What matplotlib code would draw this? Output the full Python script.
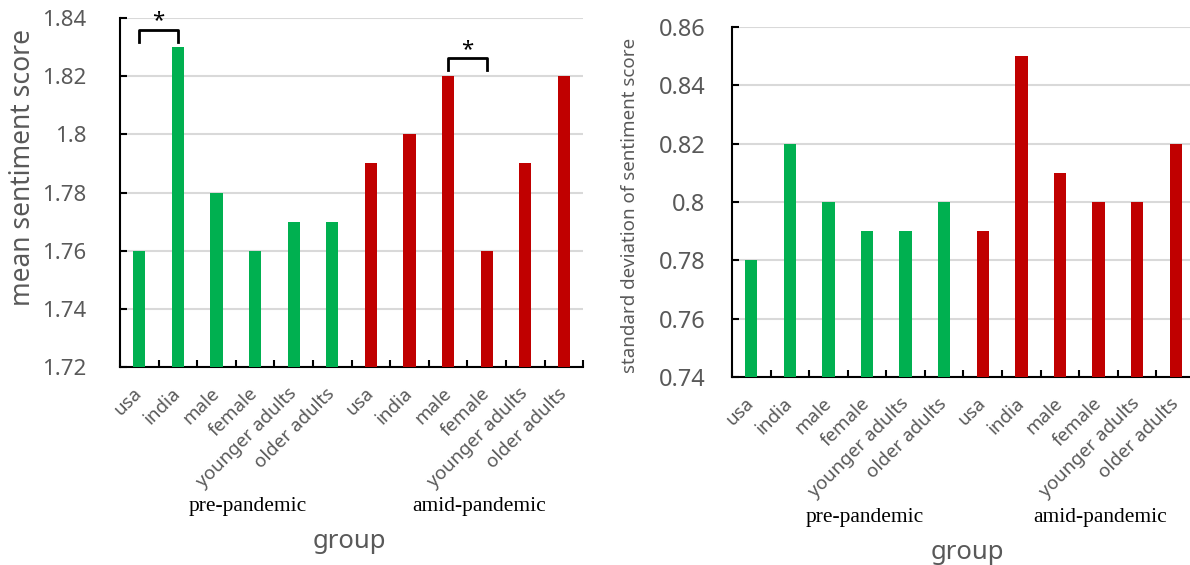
import numpy as np
import matplotlib.pyplot as plt
from matplotlib.ticker import FuncFormatter, MultipleLocator

groups = ['usa', 'india', 'male', 'female', 'younger adults', 'older adults']
labels = groups + groups
periods = ['pre-pandemic', 'amid-pandemic']

mean_pre = [1.76, 1.83, 1.78, 1.76, 1.77, 1.77]
mean_amid = [1.79, 1.80, 1.82, 1.76, 1.79, 1.82]
std_pre = [0.78, 0.82, 0.80, 0.79, 0.79, 0.80]
std_amid = [0.79, 0.85, 0.81, 0.80, 0.80, 0.82]

GREEN = '#00B050'
RED = '#C00000'
GRAY = '#595959'
plt.rcParams['font.family'] = ['Noto Sans', 'DejaVu Sans']

fig = plt.figure(figsize=(11.9, 5.65), dpi=100)
ax1 = fig.add_axes([0.1008, 0.3504, 0.3893, 0.6176])
ax2 = fig.add_axes([0.6151, 0.3327, 0.3891, 0.6195])


def style(ax, vals_pre, vals_amid, ylim, ylabel, ylabel_size, ysize, ypad):
    x = np.arange(12)
    vals = vals_pre + vals_amid
    colors = [GREEN] * 6 + [RED] * 6
    ax.bar(x, np.array(vals) - ylim[0], bottom=ylim[0], width=0.32, color=colors, zorder=3)
    ax.set_xlim(-0.5, 11.5)
    ax.set_ylim(*ylim)
    ax.yaxis.set_major_locator(MultipleLocator(0.02))
    ax.yaxis.set_major_formatter(FuncFormatter(lambda v, p: '{:g}'.format(round(v, 2))))
    ax.grid(axis='y', color='#d9d9d9', linewidth=1.5, zorder=0)
    ax.set_axisbelow(True)
    for s in ['top', 'right']:
        ax.spines[s].set_visible(False)
    for s in ['left', 'bottom']:
        ax.spines[s].set_linewidth(1.5)
        ax.spines[s].set_color('black')
    ax.tick_params(axis='y', direction='in', length=5, width=1.5, labelsize=ysize,
                   labelcolor=GRAY, pad=ypad)
    ax.set_xticks(x)
    ax.set_xticklabels(labels, rotation=45, ha='right', va='center',
                       rotation_mode='anchor', color=GRAY, fontsize=13.5)
    ax.tick_params(axis='x', which='major', length=0, pad=17)
    ax.set_xticks(np.arange(-0.5, 12, 1), minor=True)
    ax.tick_params(axis='x', which='minor', direction='in', length=5, width=1.5)
    ax.set_ylabel(ylabel, color=GRAY, fontsize=ylabel_size)


style(ax1, mean_pre, mean_amid, (1.72, 1.84), 'mean sentiment score', 19, 16, 24)
style(ax2, std_pre, std_amid, (0.74, 0.86), 'standard deviation of sentiment score',
      13.5, 17, 19)
ax1.yaxis.set_label_coords(-0.18, 0.572)
ax2.yaxis.set_label_coords(-0.2, 0.49)

# significance brackets
ax1.plot([0, 0, 1, 1], [1.8318, 1.836, 1.836, 1.8318], color='black', lw=2, zorder=4)
ax1.text(0.5, 1.8355, '*', ha='center', va='bottom', fontsize=16, fontweight='bold')
ax1.plot([8, 8, 9, 9], [1.8222, 1.8262, 1.8262, 1.8222], color='black', lw=2, zorder=4)
ax1.text(8.5, 1.8257, '*', ha='center', va='bottom', fontsize=16, fontweight='bold')

# period labels and x title
tr1 = ax1.get_xaxis_transform()
ax1.text(2.8, -0.40, periods[0], transform=tr1, ha='center', va='center',
         family='Liberation Serif', fontsize=15.5)
ax1.text(8.8, -0.40, periods[1], transform=tr1, ha='center', va='center',
         family='Liberation Serif', fontsize=15.5)
ax1.text(5.44, -0.50, 'group', transform=tr1, ha='center', va='center',
         color=GRAY, fontsize=18.5)

tr2 = ax2.get_xaxis_transform()
ax2.text(2.95, -0.40, periods[0], transform=tr2, ha='center', va='center',
         family='Liberation Serif', fontsize=15.5)
ax2.text(9.03, -0.40, periods[1], transform=tr2, ha='center', va='center',
         family='Liberation Serif', fontsize=15.5)
ax2.text(5.61, -0.50, 'group', transform=tr2, ha='center', va='center',
         color=GRAY, fontsize=18.5)

fig.savefig('out.png', dpi=100)
